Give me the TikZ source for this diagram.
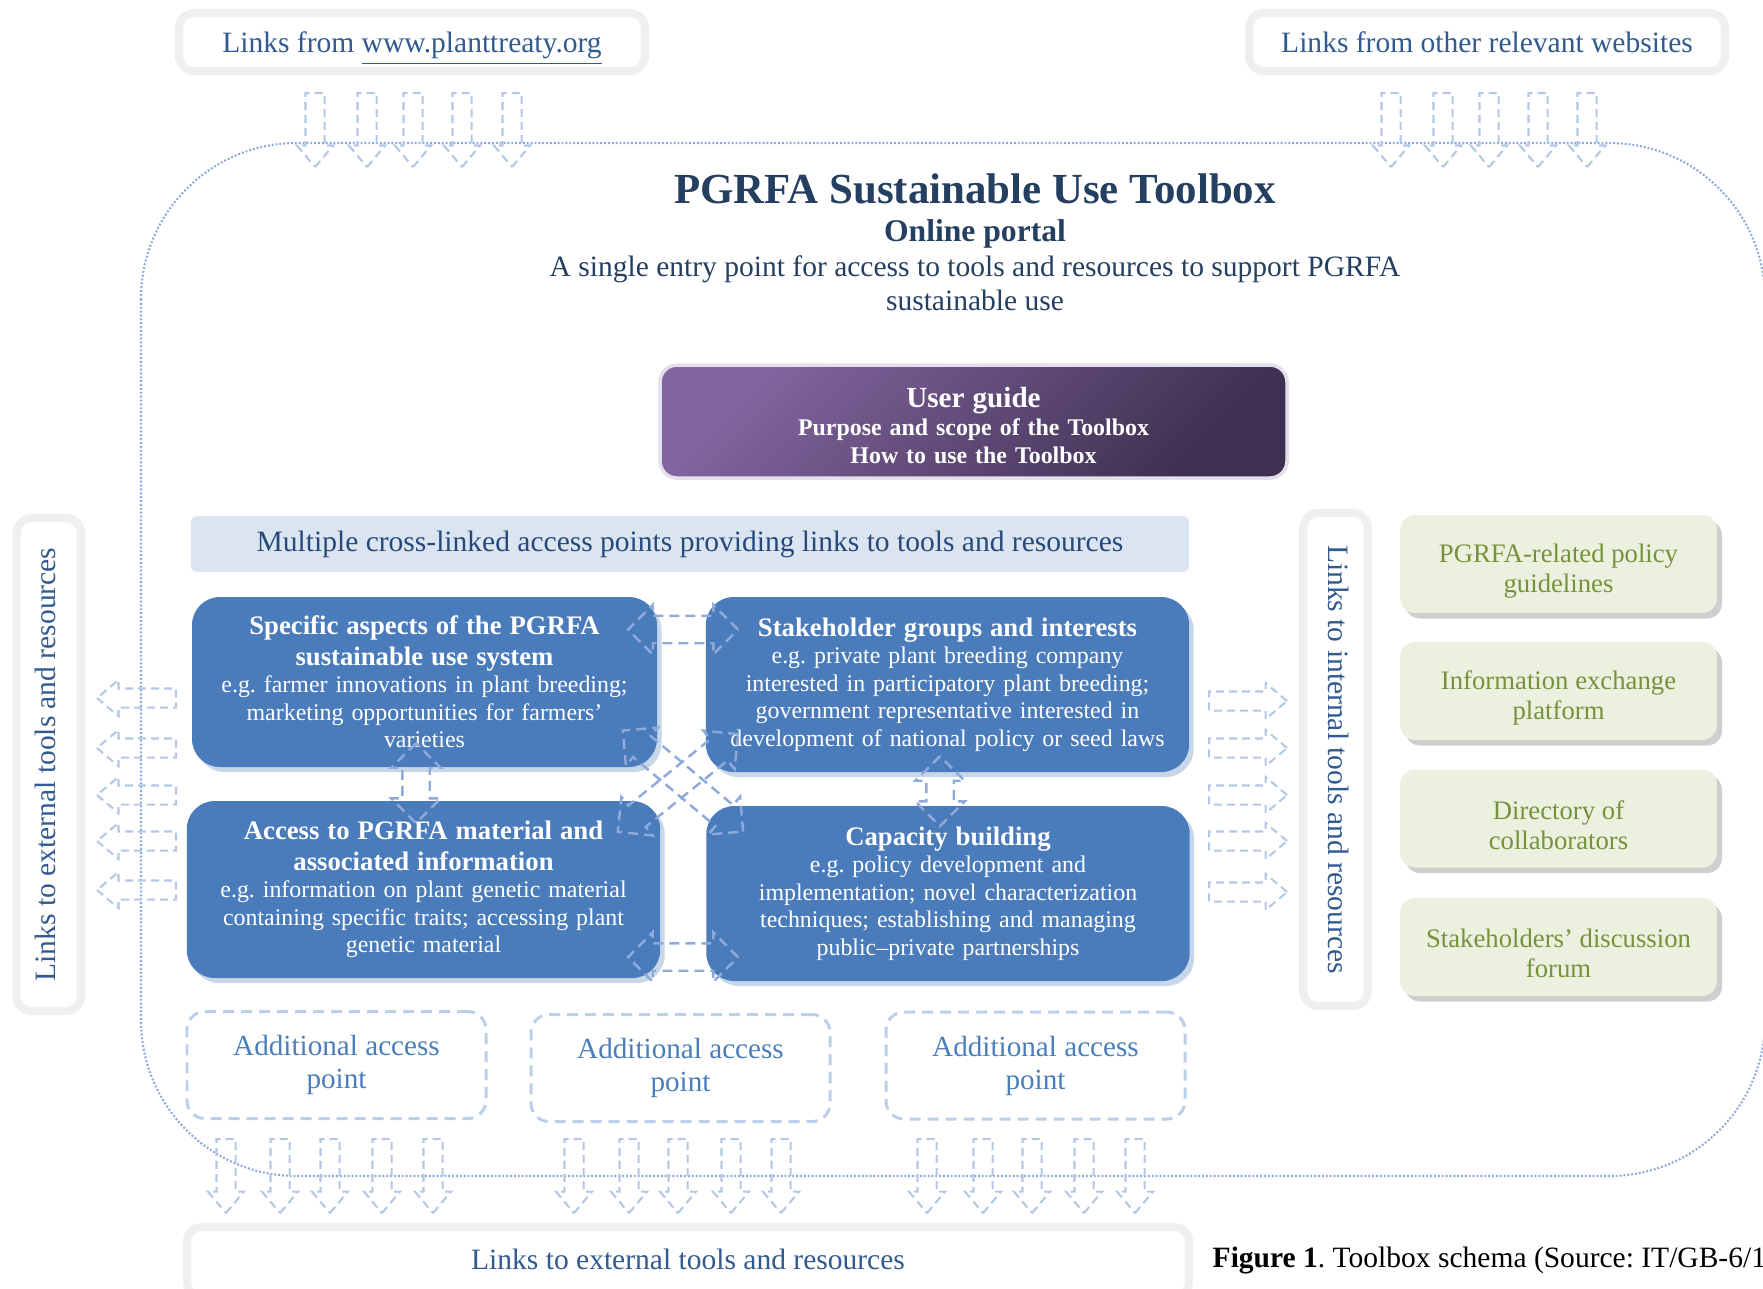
\documentclass[tikz,border=0pt]{standalone}
\usepackage{fontspec}
\setmainfont{Liberation Serif}
\usetikzlibrary{shapes.arrows,shadows}
\frenchspacing

\definecolor{titleblue}{HTML}{243F60}
\definecolor{linkblue}{HTML}{315A91}
\definecolor{bandtext}{HTML}{26497C}
\definecolor{bandfill}{HTML}{DBE5F1}
\definecolor{boxblue}{HTML}{4A7BBB}
\definecolor{boxshade}{HTML}{C8D6EA}
\definecolor{crossline}{HTML}{8EAADB}
\definecolor{linkline}{HTML}{B4C8E6}
\definecolor{framegray}{HTML}{EFEFEF}
\definecolor{extratext}{HTML}{4A7EBB}
\definecolor{extraline}{HTML}{BCCFEA}
\definecolor{greenfill}{HTML}{EBF1DE}
\definecolor{greentext}{HTML}{76923C}
\definecolor{greenshade}{HTML}{CFCFCF}
\definecolor{guidelight}{HTML}{82659F}
\definecolor{guidedark}{HTML}{3E3050}
\definecolor{guideline}{HTML}{E4DFEC}
\definecolor{outline}{HTML}{8EAADB}

\newcommand{\basefont}{\fontsize{8.4}{9.6}\selectfont}
\newcommand{\boxhead}[1]{{\fontsize{7.6}{8.65}\selectfont\bfseries #1\par}}
\newcommand{\lift}[1]{\rule{0pt}{#1}}

\tikzset{
    framebox/.style={draw=framegray, line width=2.3pt, fill=white, rounded corners=1.5mm,
        text=linkblue, font=\basefont, inner sep=0pt, text height=2.05mm, text depth=0.6mm},
    topframe/.style={framebox, minimum height=5.8mm, text height=2.6mm},
    sideframe/.style={framebox, minimum width=49.3mm, minimum height=6.45mm},
    band/.style={fill=bandfill, rounded corners=0.6mm, minimum width=99.8mm, minimum height=5.6mm,
        text=bandtext, font=\basefont},
    guidebox/.style={draw=guideline, line width=1pt, rounded corners=1.7mm,
        top color=guidelight, bottom color=guidedark, shading angle=45,
        text=white, align=center, text width=60mm, minimum width=62.7mm, minimum height=11.3mm,
        font=\bfseries\fontsize{6.8}{7.9}\selectfont},
    accessbox/.style={fill=boxblue, rounded corners=2.8mm, text=white, align=center,
        font=\fontsize{6.8}{7.8}\selectfont,
        drop shadow={shadow xshift=0.45mm, shadow yshift=-0.5mm, fill=boxshade, opacity=1}},
    extrabox/.style={draw=extraline, line width=0.85pt, dash pattern=on 1.1mm off 0.7mm,
        rounded corners=1.8mm, minimum width=29.9mm, minimum height=10.7mm,
        text=extratext, align=center, font=\fontsize{8.3}{9.4}\selectfont},
    greenbox/.style={fill=greenfill, rounded corners=1.5mm, minimum width=31.7mm, minimum height=9.8mm,
        text=greentext, align=center, font=\fontsize{7.6}{8.5}\selectfont,
        drop shadow={shadow xshift=0.5mm, shadow yshift=-0.55mm, fill=greenshade, opacity=1}},
    linkdart/.style={single arrow, draw=linkline, line width=0.6pt, dash pattern=on 0.8mm off 0.5mm,
        inner sep=0pt, text height=1.7mm, text depth=0pt, minimum width=3.4mm, anchor=tail,
        single arrow head extend=0.85mm, single arrow tip angle=80},
    crossdart/.style={double arrow, draw=crossline, line width=0.7pt, dash pattern=on 1mm off 0.6mm,
        inner sep=0pt, text height=2.5mm, text depth=0pt, minimum width=4.7mm,
        double arrow head extend=1.1mm, double arrow tip angle=90}
}

\begin{document}
\begin{tikzpicture}[x=0.1mm, y=-0.1mm]
                \useasboundingbox (0,0) rectangle (1763,1288);
                % portal outline
                \draw[outline, line width=0.6pt, dash pattern=on 0.55pt off 0.55pt, rounded corners=15.6mm]
                    (141,143) rectangle (1765,1176);

                \node[topframe, minimum width=46.6mm] (fromtreaty) at (412,42)
                    {Links from \underline{www.planttreaty.org}};
                \node[topframe, minimum width=47.6mm] (fromothers) at (1487,42)
                    {Links from other relevant websites};

                \node[text=titleblue, font=\bfseries\fontsize{12.2}{14}\selectfont] (title) at (975,189)
                    {PGRFA Sustainable Use Toolbox};
                \node[text=titleblue, font=\bfseries\fontsize{9}{10}\selectfont] (portal) at (975,234)
                    {Online portal};
                \node[text=titleblue, font=\basefont, align=center] (entry) at (975,283)
                    {A single entry point for access to tools and resources to support PGRFA\\ sustainable use};

                \node[guidebox] (guide) at (973.5,421.5)
                    {{\fontsize{8.3}{9.5}\selectfont\lift{2.8mm}User guide\par}Purpose and scope of the Toolbox\\ How to use the Toolbox};

                \node[band] (crosslinked) at (690,544)
                    {Multiple cross-linked access points providing links to tools and resources};

                % access points
                \node[accessbox, minimum width=46.5mm, minimum height=17mm, text width=44mm] (aspects) at (424.5,682)
                    {\boxhead{Specific aspects of the PGRFA\\ sustainable use system}e.g. farmer innovations in plant breeding;\\ marketing opportunities for farmers’\\ varieties};
                \node[accessbox, minimum width=48.1mm, minimum height=17.5mm, text width=46mm] (stakeholders) at (947.5,684.5)
                    {\boxhead{Stakeholder groups and interests}e.g. private plant breeding company\\ interested in participatory plant breeding;\\ government representative interested in\\ development of national policy or seed laws};
                \node[accessbox, minimum width=47.3mm, minimum height=17.7mm, text width=45mm] (material) at (423.5,889.5)
                    {\boxhead{Access to PGRFA material and\\ associated information}e.g. information on plant genetic material\\ containing specific traits; accessing plant\\ genetic material};
                \node[accessbox, minimum width=48mm, minimum height=17.5mm, text width=46mm] (capacity) at (948,893.5)
                    {\boxhead{Capacity building}e.g. policy development and\\ implementation; novel characterization\\ techniques; establishing and managing\\ public–private partnerships};

                % cross links
                \node[crossdart, minimum height=11mm] (linkab) at (683,629.5) {};
                \node[crossdart, minimum height=11mm] (linkcd) at (683,957) {};
                \node[crossdart, minimum height=8mm, rotate=90] (linkac) at (416,783) {};
                \node[crossdart, minimum height=7mm, rotate=90] (linkbd) at (940,791) {};
                \node[crossdart, minimum height=15.7mm, rotate=-40] (linkad) at (683,781) {};
                \node[crossdart, minimum height=15.5mm, rotate=39] (linkbc) at (678,783) {};

                \node[extrabox] (extra1) at (336.5,1065) {Additional access\\ point};
                \node[extrabox] (extra2) at (680.5,1068) {Additional access\\ point};
                \node[extrabox] (extra3) at (1035.5,1065.5) {Additional access\\ point};

                % side links
                \node[sideframe, rotate=90] (external) at (48.75,764.5) {Links to external tools and resources};
                \node[sideframe, rotate=-90] (internal) at (1335.5,759.5) {Links to internal tools and resources};

                \node[greenbox] (policy) at (1558.5,564) {\lift{3.2mm}PGRFA-related policy\\ guidelines};
                \node[greenbox] (exchange) at (1558.5,691) {\lift{3.2mm}Information exchange\\ platform};
                \node[greenbox] (directory) at (1558.5,818.5) {\lift{3.2mm}Directory of\\ collaborators};
                \node[greenbox] (forum) at (1558.5,947) {\lift{3.2mm}Stakeholders’ discussion\\ forum};

                \node[framebox, minimum width=100.2mm, minimum height=7mm] (bottomlinks) at (688,1262)
                    {Links to external tools and resources};
                \node[anchor=base west, font=\basefont, inner sep=0pt] (caption) at (1212,1267)
                    {\textbf{Figure 1}. Toolbox schema (Source: IT/GB-6/1};

                % link arrows
                \foreach \x [count=\i] in {315,367,413,462,512}{
                    \node[linkdart, minimum height=7.4mm, rotate=-90] (intreaty\i) at (\x,92) {};
                }
                \foreach \x [count=\i] in {1391,1443,1489,1538,1587}{
                    \node[linkdart, minimum height=7.4mm, rotate=-90] (inothers\i) at (\x,92) {};
                }
                \foreach \y [count=\i] in {698,748,795,841,890}{
                    \node[linkdart, minimum height=7.9mm, rotate=180] (toexternal\i) at (177,\y) {};
                }
                \foreach \y [count=\i] in {701,748,795,841,892}{
                    \node[linkdart, minimum height=7.8mm] (tointernal\i) at (1208,\y) {};
                }
                \foreach \x [count=\i] in {226,280,330,382,433,574,629,678,731,781,927,983,1032,1084,1135}{
                    \node[linkdart, minimum height=7.4mm, rotate=-90] (down\i) at (\x,1138) {};
                }
\end{tikzpicture}
\end{document}
